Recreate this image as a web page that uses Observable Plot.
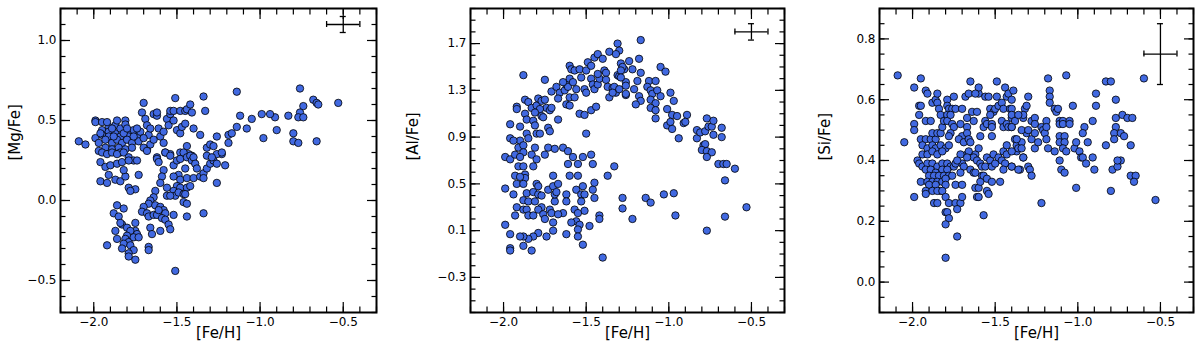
<!DOCTYPE html>
<html>
<head>
<meta charset="utf-8">
<script src="https://cdn.jsdelivr.net/npm/d3@7"></script>
<script src="https://cdn.jsdelivr.net/npm/@observablehq/plot@0.6"></script>
<style>
  html, body { margin: 0; padding: 0; background: white; }
  #wrap { position: relative; width: 1200px; height: 355px; background: white; }
  .panel { position: absolute; top: 0; width: 400px; height: 355px; }
</style>
</head>
<body>
<div id="wrap"></div>
<script>
// ---------- DATA ----------
const xLabel = "[Fe/H]";
const yLabels = ["[Mg/Fe]", "[Al/Fe]", "[Si/Fe]"];
const xTicks = [-2.0, -1.5, -1.0, -0.5];
const yTicksMg = [-0.5, 0.0, 0.5, 1.0];
const yTicksAl = [-0.3, 0.1, 0.5, 0.9, 1.3, 1.7];
const yTicksSi = [0.0, 0.2, 0.4, 0.6, 0.8];

// error bar: [x, y, xerr, yerr]
const errMg = [-0.5, 1.10, 0.1, 0.05];
const errAl = [-0.5, 1.80, 0.1, 0.07];
const errSi = [-0.5, 0.75, 0.1, 0.10];

// [Fe/H], [Mg/Fe]
const mgFe = [
[-2.09,0.37],[-2.05,0.35],[-1.99,0.50],[-1.99,0.49],[-1.95,0.49],[-1.99,0.39],[-1.95,0.44],[-1.95,0.41],[-1.91,0.46],[-1.91,0.43],
[-1.91,0.40],[-1.87,0.47],[-1.86,0.50],[-1.87,0.42],[-1.84,0.45],[-1.84,0.40],[-1.81,0.50],[-1.81,0.475],[-1.78,0.43],[-1.79,0.40],
[-1.76,0.44],[-1.74,0.40],[-1.72,0.43],[-1.70,0.61],[-1.71,0.55],[-1.69,0.51],[-1.68,0.47],[-1.67,0.41],[-1.64,0.54],[-1.62,0.53],
[-1.62,0.55],[-1.61,0.45],[-1.60,0.40],[-1.58,0.43],[-1.56,0.51],[-1.54,0.54],[-1.54,0.56],[-1.55,0.47],[-1.52,0.50],[-1.51,0.64],
[-1.52,0.56],[-1.50,0.44],[-1.48,0.42],[-1.47,0.46],[-1.48,0.56],[-1.45,0.56],[-1.44,0.57],[-1.42,0.60],[-1.41,0.55],[-1.40,0.45],
[-1.45,0.48],[-1.34,0.65],[-1.33,0.56],[-1.36,0.41],[-1.32,0.33],[-1.26,0.40],[-1.19,0.41],[-1.17,0.42],[-1.14,0.68],[-1.14,0.46],
[-1.12,0.53],[-1.30,0.35],[-1.28,0.34],[-1.23,0.29],[-1.44,0.34],[-1.43,0.29],[-1.41,0.28],[-1.57,0.30],[-1.54,0.29],[-1.62,0.27],
[-1.68,0.32],[-1.66,0.35],[-1.48,0.30],
[-1.97,0.36],[-1.93,0.38],[-1.89,0.36],[-1.86,0.38],[-1.83,0.36],[-1.80,0.38],[-1.77,0.36],[-1.93,0.33],[-1.89,0.32],[-1.85,0.33],
[-1.81,0.32],[-1.77,0.33],[-1.73,0.37],[-1.70,0.39],[-1.96,0.42],[-1.89,0.45],[-1.82,0.42],[-1.76,0.40],[-1.97,0.31],[-1.84,0.30],
[-1.70,0.33],[-1.92,0.49],[-1.88,0.40],[-1.80,0.45],[-1.74,0.45],[-1.66,0.45],[-1.64,0.38],[-1.58,0.36],
[-1.95,0.30],[-1.92,0.29],[-1.89,0.30],[-1.86,0.29],[-1.82,0.30],[-1.79,0.27],[-1.76,0.25],[-1.96,0.24],[-1.93,0.21],[-1.90,0.22],
[-1.86,0.23],[-1.83,0.24],[-1.79,0.25],[-1.74,0.25],[-1.91,0.16],[-1.87,0.13],[-1.84,0.12],[-1.81,0.15],[-1.82,0.19],[-1.73,0.16],
[-1.96,0.12],[-1.92,0.11],[-1.79,0.08],[-1.75,0.07],[-1.78,0.06],[-1.68,0.31],[-1.62,0.26],[-1.61,0.24],[-1.57,0.30],[-1.54,0.28],
[-1.52,0.22],[-1.50,0.25],[-1.48,0.26],[-1.46,0.30],[-1.44,0.27],[-1.42,0.28],[-1.41,0.25],[-1.40,0.27],[-1.39,0.23],[-1.38,0.20],
[-1.45,0.20],[-1.49,0.16],[-1.52,0.15],[-1.48,0.13],[-1.44,0.14],[-1.40,0.14],[-1.36,0.15],[-1.34,0.17],[-1.32,0.20],[-1.30,0.23],
[-1.28,0.25],[-1.26,0.29],[-1.23,0.30],[-1.21,0.22],[-1.26,0.11],[-1.58,0.19],[-1.59,0.15],[-1.60,0.11],[-1.56,0.08],[-1.63,0.06],
[-1.50,0.09],[-1.48,0.08],[-1.44,0.08],[-1.42,0.09],[-1.52,0.06],[-1.51,0.03],[-1.49,0.05],[-1.46,0.04],[-1.56,0.03],[-1.54,0.03],
[-1.64,0.02],[-1.66,0.00],[-1.67,-0.02],[-1.63,-0.03],[-1.60,-0.04],[-1.58,-0.06],[-1.57,-0.08],[-1.70,-0.04],[-1.71,-0.07],[-1.68,-0.08],
[-1.67,-0.10],[-1.64,-0.09],[-1.62,-0.09],[-1.61,-0.06],[-1.59,-0.11],[-1.57,-0.12],[-1.55,-0.15],[-1.54,-0.18],[-1.52,-0.09],[-1.66,-0.17],
[-1.65,-0.21],[-1.60,-0.19],[-1.46,-0.01],[-1.44,-0.02],[-1.45,0.04],[-1.44,-0.10],[-1.34,-0.08],[-1.86,-0.03],[-1.82,-0.05],[-1.88,-0.08],
[-1.85,-0.10],[-1.83,-0.15],[-1.84,-0.14],[-1.80,-0.17],[-1.75,-0.14],[-1.75,-0.19],[-1.74,-0.21],[-1.78,-0.19],[-1.80,-0.22],[-1.87,-0.19],
[-1.86,-0.24],[-1.81,-0.24],[-1.79,-0.26],[-1.82,-0.27],[-1.76,-0.23],[-1.73,-0.23],[-1.78,-0.28],[-1.76,-0.31],[-1.79,-0.33],[-1.79,-0.35],
[-1.75,-0.37],[-1.83,-0.30],[-1.92,-0.28],[-1.67,-0.29],[-1.67,-0.31],[-1.51,-0.44],
[-0.76,0.70],[-0.68,0.63],[-0.66,0.61],[-0.65,0.60],[-0.74,0.59],[-0.76,0.55],[-0.77,0.52],[-0.74,0.52],[-0.83,0.53],[-0.91,0.52],
[-0.94,0.54],[-0.99,0.54],[-1.05,0.51],[-1.08,0.45],[-0.90,0.44],[-0.98,0.39],[-1.19,0.36],[-0.80,0.42],[-0.80,0.37],[-0.77,0.36],
[-0.66,0.37],[-1.32,0.28],[-1.29,0.27],[-1.26,0.23],[-1.34,0.14],[-0.53,0.61]
];

// [Fe/H], [Al/Fe]
const alFe = [
[-1.88,1.43],[-1.75,1.39],[-1.92,1.16],[-1.92,1.14],[-1.87,1.22],[-1.85,1.20],[-1.83,1.15],[-1.80,1.17],[-1.79,1.23],[-1.77,1.21],
[-1.75,1.22],[-1.74,1.15],[-1.72,1.13],[-1.71,1.15],[-1.78,1.14],[-1.81,1.11],[-1.87,1.10],[-1.77,1.08],[-1.76,1.07],[-1.86,1.05],
[-1.82,1.04],[-1.96,1.01],[-1.90,0.99],[-1.81,1.00],[-1.73,0.98],[-1.72,0.95],[-1.67,1.05],[-1.71,1.29],[-1.68,1.33],[-1.66,1.28],
[-1.67,1.23],[-1.63,1.30],[-1.62,1.35],[-1.61,1.33],[-1.60,1.51],[-1.59,1.48],[-1.57,1.47],[-1.60,1.40],[-1.64,1.37],[-1.58,1.37],
[-1.56,1.31],[-1.60,1.24],[-1.62,1.18],[-1.60,1.17],[-1.57,1.24],[-1.54,1.48],[-1.53,1.41],[-1.51,1.31],[-1.50,1.28],[-1.50,1.47],
[-1.49,1.54],[-1.47,1.40],[-1.47,1.51],[-1.46,1.35],[-1.45,1.31],[-1.43,1.35],[-1.42,1.40],[-1.43,1.44],[-1.45,1.58],[-1.43,1.61],
[-1.40,1.57],[-1.39,1.47],[-1.38,1.45],[-1.38,1.39],[-1.37,1.33],[-1.34,1.32],[-1.36,1.24],[-1.32,1.28],[-1.31,1.43],[-1.30,1.42],
[-1.27,1.48],[-1.26,1.37],[-1.26,1.26],[-1.36,1.63],[-1.31,1.70],[-1.30,1.64],[-1.29,1.53],[-1.54,1.10],[-1.51,1.09],[-1.50,0.93],
[-1.47,1.13],[-1.44,1.16],[-1.64,0.81],[-1.61,0.78],[-1.58,0.73],[-1.52,0.73],[-1.47,0.75],[-1.86,0.93],[-1.85,0.89],[-1.90,0.87],
[-1.96,0.89],[-1.94,0.87],[-1.91,0.81],[-1.88,0.83],[-1.88,0.77],[-1.83,0.75],[-1.81,0.81],[-1.80,0.93],[-1.78,0.93],[-1.75,0.75],
[-1.73,0.81],[-1.69,0.80],[-1.99,0.73],[-1.96,0.71],[-1.93,0.75],[-1.90,0.73],
[-1.91,0.65],[-1.88,0.65],[-1.87,0.58],[-1.87,0.55],[-1.93,0.57],[-1.90,0.56],[-1.92,0.50],[-1.88,0.50],[-1.99,0.46],[-1.94,0.41],
[-1.80,0.71],[-1.82,0.65],[-1.80,0.50],[-1.79,0.48],[-1.86,0.42],[-1.82,0.43],[-1.79,0.41],[-1.77,0.40],[-1.88,0.36],[-1.85,0.35],
[-1.81,0.35],[-1.92,0.30],[-1.88,0.28],[-1.86,0.28],[-1.93,0.23],[-1.85,0.23],[-1.82,0.23],[-1.77,0.30],[-1.79,0.28],[-1.76,0.24],
[-1.75,0.20],[-1.72,0.28],[-1.71,0.25],[-1.69,0.35],[-1.73,0.45],[-1.69,0.41],[-1.70,0.48],[-1.67,0.50],[-1.68,0.43],[-1.70,0.57],
[-1.60,0.57],[-1.55,0.57],[-1.61,0.67],[-1.55,0.67],[-1.46,0.67],[-1.37,0.57],[-1.33,0.65],[-1.62,0.41],[-1.62,0.35],[-1.56,0.45],
[-1.53,0.41],[-1.51,0.41],[-1.53,0.35],[-1.51,0.27],[-1.57,0.28],[-1.55,0.25],[-1.52,0.48],[-1.46,0.45],[-1.45,0.51],[-1.45,0.38],
[-1.42,0.23],[-1.42,0.20],[-1.48,0.14],[-1.56,0.18],[-1.59,0.17],[-1.54,0.15],[-1.55,0.11],[-1.55,0.05],[-1.52,-0.02],[-1.62,0.07],
[-1.64,0.25],[-1.67,0.24],[-1.70,0.17],[-1.70,0.10],[-1.74,0.05],[-1.79,0.08],[-1.82,0.05],[-1.85,0.03],[-1.88,0.05],[-1.90,0.05],
[-1.88,-0.03],[-1.96,0.07],[-1.96,-0.05],[-1.96,-0.07],[-1.83,-0.07],[-1.99,0.15],[-1.40,-0.13],[-1.28,0.38],[-1.28,0.29],
[-1.17,1.73],[-1.32,1.61],[-1.24,1.55],[-1.22,1.48],[-1.18,1.57],[-1.17,1.45],[-1.28,1.50],[-1.29,1.47],[-1.29,1.41],[-1.26,1.34],
[-1.26,1.27],[-1.33,1.33],[-1.30,1.31],[-1.34,1.28],[-1.19,1.38],[-1.21,1.31],[-1.18,1.25],[-1.17,1.21],[-1.20,1.18],[-1.12,1.38],
[-1.13,1.33],[-1.11,1.30],[-1.10,1.27],[-1.11,1.22],[-1.08,1.38],[-1.07,1.30],[-1.05,1.25],[-1.08,1.19],[-1.11,1.15],[-1.08,1.13],
[-1.08,1.06],[-1.05,1.50],[-1.02,1.46],[-0.99,1.28],[-0.97,1.21],[-1.01,1.14],[-0.98,1.09],[-1.01,1.00],[-0.99,1.03],[-0.98,0.97],
[-0.95,1.08],[-0.89,1.09],[-0.91,1.02],[-0.90,1.03],[-0.94,0.89],[-0.83,0.96],[-0.83,0.89],[-0.81,0.94],[-0.78,0.95],[-0.77,1.06],
[-0.76,0.99],[-0.74,0.99],[-0.73,1.04],[-0.73,0.92],[-0.68,0.98],[-0.68,0.90],[-0.79,0.83],[-0.78,0.84],[-0.80,0.79],[-0.77,0.78],
[-0.74,0.77],[-0.77,0.73],[-0.70,0.67],[-0.67,0.67],[-0.65,0.67],[-0.60,0.63],[-0.66,0.53],[-1.22,0.20],[-1.14,0.38],[-1.11,0.34],
[-1.03,0.41],[-0.97,0.42],[-0.96,0.23],[-0.77,0.10],[-0.66,0.22],[-0.53,0.30]
];

// [Fe/H], [Si/Fe]
const siFe = [
[-2.09,0.68],[-2.05,0.46],[-1.99,0.64],[-1.95,0.67],[-1.96,0.58],[-1.95,0.58],[-1.96,0.55],[-1.99,0.52],[-1.99,0.50],[-1.92,0.63],
[-1.91,0.62],[-1.92,0.53],[-1.89,0.53],[-1.88,0.59],[-1.86,0.60],[-1.85,0.62],[-1.85,0.59],[-1.95,0.47],[-1.92,0.47],[-1.89,0.47],
[-1.86,0.47],[-1.88,0.49],[-1.85,0.49],[-1.83,0.49],[-1.94,0.45],[-1.91,0.44],[-1.88,0.45],[-1.86,0.44],[-1.83,0.45],[-1.80,0.44],
[-1.78,0.45],[-1.84,0.57],[-1.83,0.55],[-1.82,0.51],[-1.81,0.53],[-1.79,0.60],[-1.79,0.58],[-1.78,0.57],[-1.79,0.55],[-1.79,0.53],
[-1.76,0.57],[-1.77,0.55],[-1.76,0.52],[-1.75,0.51],[-1.77,0.49],[-1.78,0.48],[-1.75,0.61],[-1.74,0.57],[-1.71,0.52],[-1.70,0.48],
[-1.72,0.47],[-1.69,0.46],[-1.70,0.57],[-1.68,0.61],[-1.66,0.62],[-1.65,0.66],[-1.67,0.54],[-1.67,0.51],[-1.67,0.49],[-1.66,0.47],
[-1.65,0.46],[-1.64,0.56],[-1.63,0.53],[-1.61,0.56],[-1.60,0.62],[-1.60,0.64],[-1.62,0.62],[-1.62,0.42],[-1.60,0.44],[-1.67,0.42],
[-1.63,0.41],[-1.59,0.48],[-1.57,0.51],[-1.56,0.53],[-1.55,0.52],[-1.56,0.61],[-1.54,0.61],[-1.53,0.57],[-1.51,0.56],[-1.53,0.55],
[-1.52,0.52],[-1.52,0.51],[-1.52,0.48],[-1.50,0.57],[-1.49,0.61],[-1.49,0.66],[-1.48,0.58],[-1.46,0.59],[-1.45,0.57],[-1.46,0.53],
[-1.45,0.51],[-1.45,0.43],[-1.43,0.45],[-1.44,0.64],[-1.43,0.61],[-1.42,0.62],[-1.41,0.57],[-1.40,0.54],[-1.43,0.52],[-1.42,0.51],
[-1.40,0.51],[-1.39,0.63],[-1.38,0.47],[-1.37,0.45],[-1.34,0.46],[-1.33,0.41],[-1.31,0.49],[-1.33,0.54],[-1.32,0.57],[-1.30,0.61],
[-1.97,0.40],[-1.94,0.42],[-1.91,0.42],[-1.88,0.43],[-1.85,0.42],[-1.82,0.43],
[-1.96,0.39],[-1.94,0.38],[-1.91,0.39],[-1.88,0.39],[-1.85,0.38],[-1.82,0.39],[-1.79,0.39],[-1.77,0.38],
[-1.92,0.37],[-1.89,0.37],[-1.86,0.36],[-1.82,0.37],[-1.79,0.37],[-1.75,0.38],
[-1.90,0.35],[-1.87,0.35],[-1.84,0.35],[-1.81,0.35],[-1.78,0.35],[-1.76,0.35],
[-1.95,0.33],[-1.91,0.33],[-1.88,0.33],[-1.85,0.33],[-1.82,0.33],[-1.80,0.34],
[-1.90,0.32],[-1.86,0.32],[-1.83,0.30],[-1.80,0.32],[-1.74,0.32],[-1.70,0.32],
[-1.92,0.30],[-1.88,0.30],[-1.85,0.30],[-1.82,0.30],
[-1.99,0.28],[-1.92,0.29],[-1.87,0.26],[-1.85,0.26],[-1.80,0.28],[-1.78,0.26],[-1.74,0.26],[-1.71,0.26],[-1.70,0.28],[-1.80,0.23],
[-1.79,0.23],[-1.78,0.21],[-1.80,0.19],[-1.73,0.24],[-1.73,0.15],[-1.80,0.08],
[-1.71,0.42],[-1.70,0.39],[-1.69,0.38],[-1.71,0.36],[-1.74,0.39],[-1.73,0.40],[-1.66,0.43],[-1.67,0.41],[-1.65,0.37],[-1.63,0.36],
[-1.62,0.36],[-1.61,0.40],[-1.59,0.39],[-1.58,0.38],[-1.58,0.35],[-1.62,0.31],[-1.61,0.28],[-1.60,0.28],[-1.60,0.31],[-1.59,0.33],
[-1.57,0.35],[-1.56,0.38],[-1.55,0.41],[-1.53,0.40],[-1.52,0.38],[-1.51,0.42],[-1.50,0.39],[-1.55,0.34],[-1.52,0.33],[-1.55,0.30],
[-1.54,0.29],[-1.57,0.22],[-1.47,0.33],[-1.48,0.41],[-1.46,0.40],[-1.44,0.39],[-1.43,0.42],[-1.45,0.37],[-1.40,0.38],[-1.37,0.43],
[-1.35,0.37],[-1.33,0.41],[-1.30,0.38],
[-1.40,0.60],[-1.40,0.57],[-1.31,0.58],[-1.33,0.55],[-1.40,0.55],[-1.38,0.53],[-1.36,0.55],[-1.40,0.51],[-1.34,0.50],[-1.30,0.50],
[-1.37,0.47],[-1.36,0.44],[-1.34,0.44],[-1.40,0.43],[-1.40,0.38],[-1.36,0.37],[-1.29,0.37],[-1.28,0.35],[-1.28,0.53],[-1.26,0.54],
[-1.26,0.52],[-1.28,0.47],[-1.26,0.49],[-1.26,0.44],[-1.24,0.46],[-1.22,0.51],[-1.21,0.50],[-1.20,0.49],[-1.19,0.53],[-1.19,0.51],
[-1.19,0.47],[-1.18,0.44],[-1.18,0.67],[-1.17,0.63],[-1.17,0.61],[-1.17,0.59],[-1.14,0.57],[-1.13,0.56],[-1.12,0.57],[-1.14,0.43],
[-1.11,0.40],[-1.10,0.37],[-1.08,0.36],[-1.11,0.53],[-1.11,0.52],[-1.09,0.53],[-1.09,0.52],[-1.05,0.53],[-1.05,0.52],[-1.11,0.48],
[-1.11,0.46],[-1.08,0.48],[-1.08,0.46],[-1.09,0.44],[-1.07,0.43],[-1.07,0.68],[-1.03,0.58],[-1.02,0.44],[-1.01,0.46],[-0.99,0.43],
[-0.98,0.41],[-0.97,0.41],[-0.95,0.39],[-0.96,0.51],[-0.97,0.49],[-0.94,0.46],[-0.91,0.41],[-0.91,0.53],[-0.90,0.37],[-0.89,0.62],
[-0.89,0.58],[-1.01,0.31],[-1.22,0.26],[-0.83,0.45],[-0.83,0.66],[-0.80,0.66],[-0.77,0.60],[-0.77,0.54],[-0.77,0.51],[-0.78,0.49],
[-0.78,0.47],[-0.73,0.55],[-0.74,0.49],[-0.72,0.48],[-0.70,0.54],[-0.67,0.54],[-0.68,0.45],[-0.79,0.37],[-0.76,0.38],[-0.74,0.40],
[-0.76,0.40],[-0.68,0.35],[-0.65,0.35],[-0.66,0.33],[-0.80,0.30],[-0.60,0.67],[-0.53,0.27]
];

// ---------- DRAW ----------
const fmt = d3.format(".1f");
const xDomain = [-2.2, -0.3];
const minorX = d3.range(-22, -2).map(v => v / 10);

function makePanel(cfg) {
  const [ex, ey, exe, eye] = cfg.err;
  const err = [{x: ex, y: ey, xe: exe, ye: eye}];
  const yMinor = d3.range(Math.round(cfg.yDomain[0] / cfg.yMinorStep), Math.round(cfg.yDomain[1] / cfg.yMinorStep) + 1)
    .map(v => +(v * cfg.yMinorStep).toFixed(3));
  const M = 10, m = 5.5, tw = 1.2;
  return Plot.plot({
    width: 400, height: 355,
    marginTop: 8, marginBottom: 43, marginLeft: cfg.ml, marginRight: cfg.mr,
    style: {fontFamily: "'DejaVu Sans', sans-serif", fontSize: "12px", color: "black", background: "white", overflow: "visible"},
    x: {domain: xDomain, label: null},
    y: {domain: cfg.yDomain, label: null},
    marks: [
      // minor ticks (inward, all four sides)
      Plot.axisX(minorX, {anchor: "bottom", tickSize: m, dy: -m, strokeWidth: tw, fill: "none", tickFormat: () => "", label: null}),
      Plot.axisX(minorX, {anchor: "top", tickSize: m, dy: m, strokeWidth: tw, fill: "none", tickFormat: () => "", label: null}),
      Plot.axisY(yMinor, {anchor: "left", tickSize: m, dx: m, strokeWidth: tw, fill: "none", tickFormat: () => "", label: null}),
      Plot.axisY(yMinor, {anchor: "right", tickSize: m, dx: -m, strokeWidth: tw, fill: "none", tickFormat: () => "", label: null}),
      // major ticks
      Plot.axisX(xTicks, {anchor: "bottom", tickSize: M, dy: -M, tickPadding: 5, strokeWidth: tw, tickFormat: fmt, label: null, fontSize: 12}),
      Plot.axisX(xTicks, {anchor: "top", tickSize: M, dy: M, strokeWidth: tw, fill: "none", tickFormat: () => "", label: null}),
      Plot.axisY(cfg.yTicks, {anchor: "left", tickSize: M, dx: M, tickPadding: 4, strokeWidth: tw, tickFormat: fmt, label: null, fontSize: 12}),
      Plot.axisY(cfg.yTicks, {anchor: "right", tickSize: M, dx: -M, strokeWidth: tw, fill: "none", tickFormat: () => "", label: null}),
      // data
      Plot.dot(cfg.points, {x: d => d[0], y: d => d[1], r: 3.7, fill: "#4169e1", stroke: "black", strokeWidth: 0.8}),
      // error bar
      Plot.ruleY(err, {y: "y", x1: d => d.x - d.xe, x2: d => d.x + d.xe, stroke: "black", strokeWidth: 1.3}),
      Plot.ruleX(err, {x: "x", y1: d => d.y - d.ye, y2: d => d.y + d.ye, stroke: "black", strokeWidth: 1.3}),
      Plot.ruleX(err, {x: d => d.x - d.xe, y1: "y", y2: "y", insetTop: -3, insetBottom: -3, stroke: "black", strokeWidth: 1.3}),
      Plot.ruleX(err, {x: d => d.x + d.xe, y1: "y", y2: "y", insetTop: -3, insetBottom: -3, stroke: "black", strokeWidth: 1.3}),
      Plot.ruleY(err, {y: d => d.y - d.ye, x1: "x", x2: "x", insetLeft: -3, insetRight: -3, stroke: "black", strokeWidth: 1.3}),
      Plot.ruleY(err, {y: d => d.y + d.ye, x1: "x", x2: "x", insetLeft: -3, insetRight: -3, stroke: "black", strokeWidth: 1.3}),
      // labels
      Plot.text([xLabel], {frameAnchor: "bottom", lineAnchor: "middle", dy: 21, fontSize: 15, fill: "black"}),
      Plot.text([cfg.yLabel], {frameAnchor: "left", lineAnchor: "middle", rotate: -90, dx: cfg.ydx, fontSize: 15, fill: "black"}),
      Plot.frame({stroke: "black", strokeWidth: 2})
    ]
  });
}

const panels = [
  {points: mgFe, yDomain: [-0.7, 1.2], yTicks: yTicksMg, yMinorStep: 0.1, yLabel: yLabels[0], err: errMg, ml: 60, mr: 24, ydx: -45, left: 0},
  {points: alFe, yDomain: [-0.6, 2.0], yTicks: yTicksAl, yMinorStep: 0.1, yLabel: yLabels[1], err: errAl, ml: 70, mr: 16, ydx: -57, left: 400},
  {points: siFe, yDomain: [-0.1, 0.9], yTicks: yTicksSi, yMinorStep: 0.05, yLabel: yLabels[2], err: errSi, ml: 79, mr: 7, ydx: -54, left: 800}
];

const wrap = document.getElementById("wrap");
for (const cfg of panels) {
  const div = document.createElement("div");
  div.className = "panel";
  div.style.left = cfg.left + "px";
  div.appendChild(makePanel(cfg));
  wrap.appendChild(div);
}
</script>
</body>
</html>
